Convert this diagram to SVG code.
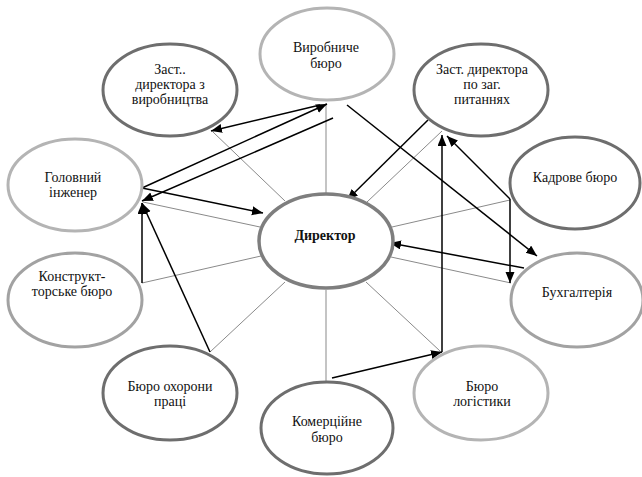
<svg xmlns="http://www.w3.org/2000/svg" width="642" height="477" viewBox="0 0 642 477">
<style>
.n{fill:#fff;stroke-width:3}
.d{stroke:#6e6e6e}
.l{stroke:#b4b4b4}
.m{stroke:#a2a2a2}
.c{stroke:#7e7e7e;stroke-width:3.5}
text{font-family:'Liberation Serif','DejaVu Serif',serif;font-size:14px;fill:#111;text-anchor:middle}
.b{font-weight:bold}
.g{stroke:#8a8a8a;stroke-width:1;fill:none}
.gl{stroke:#b0b0b0;stroke-width:1.5;fill:none}
.a{stroke:#000;stroke-width:1.5;fill:none;marker-end:url(#ah)}
</style>
<defs>
<marker id="ah" markerUnits="userSpaceOnUse" markerWidth="12" markerHeight="10" refX="11" refY="4.5" orient="auto">
<path d="M0,0 L11,4.5 L0,9 z" fill="#000"/>
</marker>
</defs>
<rect width="642" height="477" fill="#fff"/>
<g id="connectors">
<line class="g" x1="213" y1="132" x2="285" y2="201"/>
<line class="gl" x1="326" y1="103" x2="326" y2="194"/>
<line class="g" x1="367" y1="202" x2="442" y2="131"/>
<line class="g" x1="510" y1="200" x2="392" y2="227"/>
<line class="g" x1="391" y1="257" x2="511" y2="283"/>
<line class="g" x1="366" y1="282" x2="440" y2="351"/>
<line class="gl" x1="326" y1="290" x2="326" y2="381"/>
<line class="g" x1="285" y1="282" x2="210" y2="352"/>
<line class="g" x1="261" y1="256" x2="142" y2="283"/>
<line class="g" x1="143" y1="202" x2="260" y2="227"/>
<line class="a" x1="320" y1="105" x2="211" y2="131"/>
<line class="a" x1="142" y1="188" x2="327" y2="104"/>
<line class="a" x1="333" y1="118" x2="142" y2="201"/>
<line class="a" x1="142" y1="188" x2="263" y2="213"/>
<line class="a" x1="347" y1="105" x2="537" y2="256"/>
<line class="a" x1="428" y1="120" x2="347" y2="200"/>
<line class="a" x1="332" y1="378" x2="442" y2="352"/>
<line class="a" x1="442" y1="352" x2="442" y2="135"/>
<line class="a" x1="510" y1="199" x2="447" y2="136"/>
<line class="a" x1="510" y1="199" x2="510" y2="283"/>
<line class="a" x1="524" y1="268" x2="390" y2="243"/>
<line class="a" x1="210" y1="352" x2="142" y2="203"/>
<line class="a" x1="142" y1="283" x2="142" y2="203"/>
</g>
<g id="vyrobnyche">
<ellipse class="n l" cx="327" cy="54" rx="67" ry="46"/>
<text x="326" y="52">Виробниче</text>
<text x="326" y="68">бюро</text>
</g>
<g id="zast-vyr">
<ellipse class="n d" cx="170" cy="90" rx="67" ry="46"/>
<text x="170" y="74">Заст..</text>
<text x="170" y="89">директора з</text>
<text x="170" y="104">виробництва</text>
</g>
<g id="zast-zag">
<ellipse class="n d" cx="481" cy="90" rx="67" ry="46"/>
<text x="482" y="74">Заст. директора</text>
<text x="482" y="89">по заг.</text>
<text x="482" y="104">питаннях</text>
</g>
<g id="holovnyi">
<ellipse class="n l" cx="75" cy="185" rx="67" ry="46"/>
<text x="73" y="182">Головний</text>
<text x="73" y="197">інженер</text>
</g>
<g id="kadrove">
<ellipse class="n d" cx="575" cy="183" rx="65" ry="46"/>
<text x="575" y="182">Кадрове бюро</text>
</g>
<g id="dyrektor">
<ellipse class="n c" cx="326" cy="241" rx="67" ry="47"/>
<text class="b" x="325" y="240">Директор</text>
</g>
<g id="konstrukt">
<ellipse class="n m" cx="75" cy="300" rx="67" ry="47"/>
<text x="72" y="281">Конструкт-</text>
<text x="72" y="296">торське бюро</text>
</g>
<g id="bukh">
<ellipse class="n m" cx="577" cy="300" rx="66" ry="47"/>
<text x="577" y="297">Бухгалтерія</text>
</g>
<g id="okhorona">
<ellipse class="n d" cx="170" cy="393" rx="67" ry="47"/>
<text x="170" y="391">Бюро охорони</text>
<text x="170" y="406">праці</text>
</g>
<g id="lohistyka">
<ellipse class="n l" cx="481" cy="393" rx="67" ry="47"/>
<text x="482" y="391">Бюро</text>
<text x="482" y="406">логістики</text>
</g>
<g id="komertsiine">
<ellipse class="n d" cx="327" cy="428" rx="66" ry="46"/>
<text x="327" y="426">Комерційне</text>
<text x="327" y="442">бюро</text>
</g>
</svg>
